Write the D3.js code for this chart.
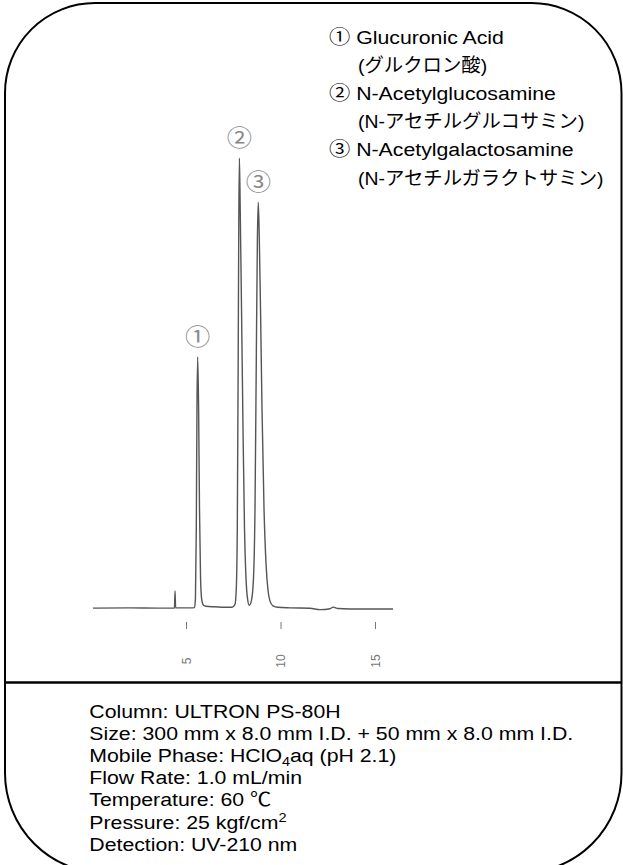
<!DOCTYPE html>
<html><head><meta charset="utf-8">
<script src="https://cdn.jsdelivr.net/npm/d3@7"></script>
<style>html,body{margin:0;padding:0;background:#fff;} svg{display:block}</style>
</head><body>
<svg id="chart" width="623" height="865"></svg>
<script>
// ---------- data ----------
const traceTime = [0.08, 2.04, 3.5, 4.39, 4.42, 4.45, 5.21, 5.45, 5.50, 5.545, 5.58, 5.62, 5.667, 5.714, 5.77, 5.836, 5.926, 6.058, 6.534, 7.063, 7.434, 7.487, 7.593, 7.661, 7.714, 7.762, 7.794, 7.825, 7.868, 7.937, 8.016, 8.095, 8.175, 8.254, 8.349, 8.466, 8.571, 8.651, 8.72, 8.778, 8.825, 8.878, 8.942, 9.021, 9.127, 9.233, 9.339, 9.444, 9.603, 9.868, 10.503, 11.561, 12.09, 12.619, 12.778, 13.042, 13.677, 15.952];
const traceSignal = [0.05, 0.1, 0.05, 0.05, 3.84, 0.1, 0.1, 0.15, 2.2, 17.8, 44.4, 55.8, 44.4, 22.2, 6.7, 1.8, 0.67, 0.44, 0.33, 0.22, 0.22, 0.33, 0.9, 4.4, 17.8, 55.6, 86.7, 100, 88.9, 66.7, 40, 17.8, 6.7, 2.2, 0.67, 1.8, 6.7, 22.2, 55.6, 82.2, 90.2, 82.2, 66.7, 44.4, 22.2, 10, 4, 1.6, 0.56, 0.22, 0.1, 0.0, -0.3, -0.1, 0.25, -0.05, -0.15, -0.15];
const peakTimes = [5.62, 7.825, 8.825];
const peakHeights = [55.8, 100, 90.2];
const peakMarks = ["①", "②", "③"];
const tickValues = [5, 10, 15];
const tickLabels = ["5", "10", "15"];
const legendMarks = ["①", "②", "③"];
const legendNames = ["Glucuronic Acid", "N-Acetylglucosamine", "N-Acetylgalactosamine"];
const legendNamesJa = ["(グルクロン酸)", "(N-アセチルグルコサミン)", "(N-アセチルガラクトサミン)"];
const conditionLines = [
  [["Column: ULTRON PS-80H", ""]],
  [["Size: 300 mm x 8.0 mm I.D. + 50 mm x 8.0 mm I.D.", ""]],
  [["Mobile Phase: HClO", ""], ["4", "sub"], ["aq (pH 2.1)", ""]],
  [["Flow Rate: 1.0 mL/min", ""]],
  [["Temperature: 60 ℃", ""]],
  [["Pressure: 25 kgf/cm", ""], ["2", "sup"]],
  [["Detection: UV-210 nm", ""]]
];

// ---------- drawing ----------
const svg = d3.select("#chart");
const FONT = "'Liberation Sans', Arial, 'Noto Sans CJK JP', sans-serif";
const CJK = "'Noto Sans CJK JP', sans-serif";
const SX = 1.12;

// frame
const L = 5, T = 3, R = 621.5, B = 873, rt = 90, rb = 100;
const p = d3.path();
p.moveTo(L + rt, T); p.lineTo(R - rt, T); p.arcTo(R, T, R, T + rt, rt);
p.lineTo(R, B - rb); p.arcTo(R, B, R - rb, B, rb);
p.lineTo(L + rb, B); p.arcTo(L, B, L, B - rb, rb);
p.lineTo(L, T + rt); p.arcTo(L, T, L + rt, T, rt); p.closePath();
svg.append("path").attr("d", p.toString()).attr("fill", "none").attr("stroke", "#000").attr("stroke-width", 2);
svg.append("line").attr("x1", L).attr("x2", R).attr("y1", 682.5).attr("y2", 682.5)
  .attr("stroke", "#000").attr("stroke-width", 2.5);

// scales
const x = d3.scaleLinear().domain([5, 15]).range([186, 375]);
const y = d3.scaleLinear().domain([0, 100]).range([608.3, 158]);

// trace
const pts = traceTime.map((t, i) => [t, traceSignal[i]]);
svg.append("path").datum(pts)
  .attr("d", d3.line().x(d => x(d[0])).y(d => y(d[1])).curve(d3.curveMonotoneX))
  .attr("fill", "none").attr("stroke", "#555").attr("stroke-width", 1.4).attr("stroke-linejoin", "round");

// axis
const axis = d3.axisBottom(x).tickValues(tickValues).tickSize(7).tickFormat((d, i) => tickLabels[i]);
const ax = svg.append("g").attr("transform", "translate(0,622)").call(axis);
ax.select(".domain").remove();
ax.selectAll(".tick line").attr("stroke", "#777").attr("stroke-width", 1);
ax.selectAll(".tick text")
  .attr("y", 0).attr("dy", "0.35em")
  .attr("transform", "translate(0,39) rotate(-90)")
  .attr("text-anchor", "middle")
  .attr("fill", "#777").attr("font-size", 12).attr("font-family", FONT);

// peak labels
peakTimes.forEach((t, i) => {
  svg.append("g")
    .attr("transform", `translate(${x(t)},${y(peakHeights[i]) - 20}) scale(1.1,1)`)
    .append("text")
    .attr("dy", "0.36em")
    .attr("text-anchor", "middle").attr("font-family", CJK).attr("font-size", 23)
    .attr("fill", "#888").text(peakMarks[i]);
});

// legend
const legX = 329, legY = 43.5, legStep = 28.2;
legendNames.forEach((name, i) => {
  const g1 = svg.append("g").attr("transform", `translate(${legX},${legY + 2 * i * legStep}) scale(${SX},1)`);
  const t1 = g1.append("text").attr("font-family", FONT).attr("font-size", 19).attr("fill", "#000");
  t1.append("tspan").attr("font-family", CJK).text(legendMarks[i]);
  t1.append("tspan").text(" " + name);
  const g2 = svg.append("g").attr("transform", `translate(358,${legY + (2 * i + 1) * legStep}) scale(1.02,1)`);
  g2.append("text").attr("font-family", FONT).attr("font-size", 19).attr("fill", "#000").text(legendNamesJa[i]);
});

// conditions
const condX = 89.3, condY = 717.5, condStep = 22.2;
conditionLines.forEach((segs, i) => {
  const g = svg.append("g").attr("transform", `translate(${condX},${condY + i * condStep}) scale(${SX},1)`);
  const t = g.append("text").attr("font-family", FONT).attr("font-size", 19).attr("fill", "#000");
  segs.forEach(([s, kind], j) => {
    const ts = t.append("tspan").text(s);
    if (kind === "sub") ts.attr("font-size", 13).attr("dy", 4);
    if (kind === "sup") ts.attr("font-size", 13).attr("dy", -7);
    if (kind === "" && j > 0 && segs[j - 1][1] === "sub") ts.attr("dy", -4);
  });
});
</script>
</body></html>
